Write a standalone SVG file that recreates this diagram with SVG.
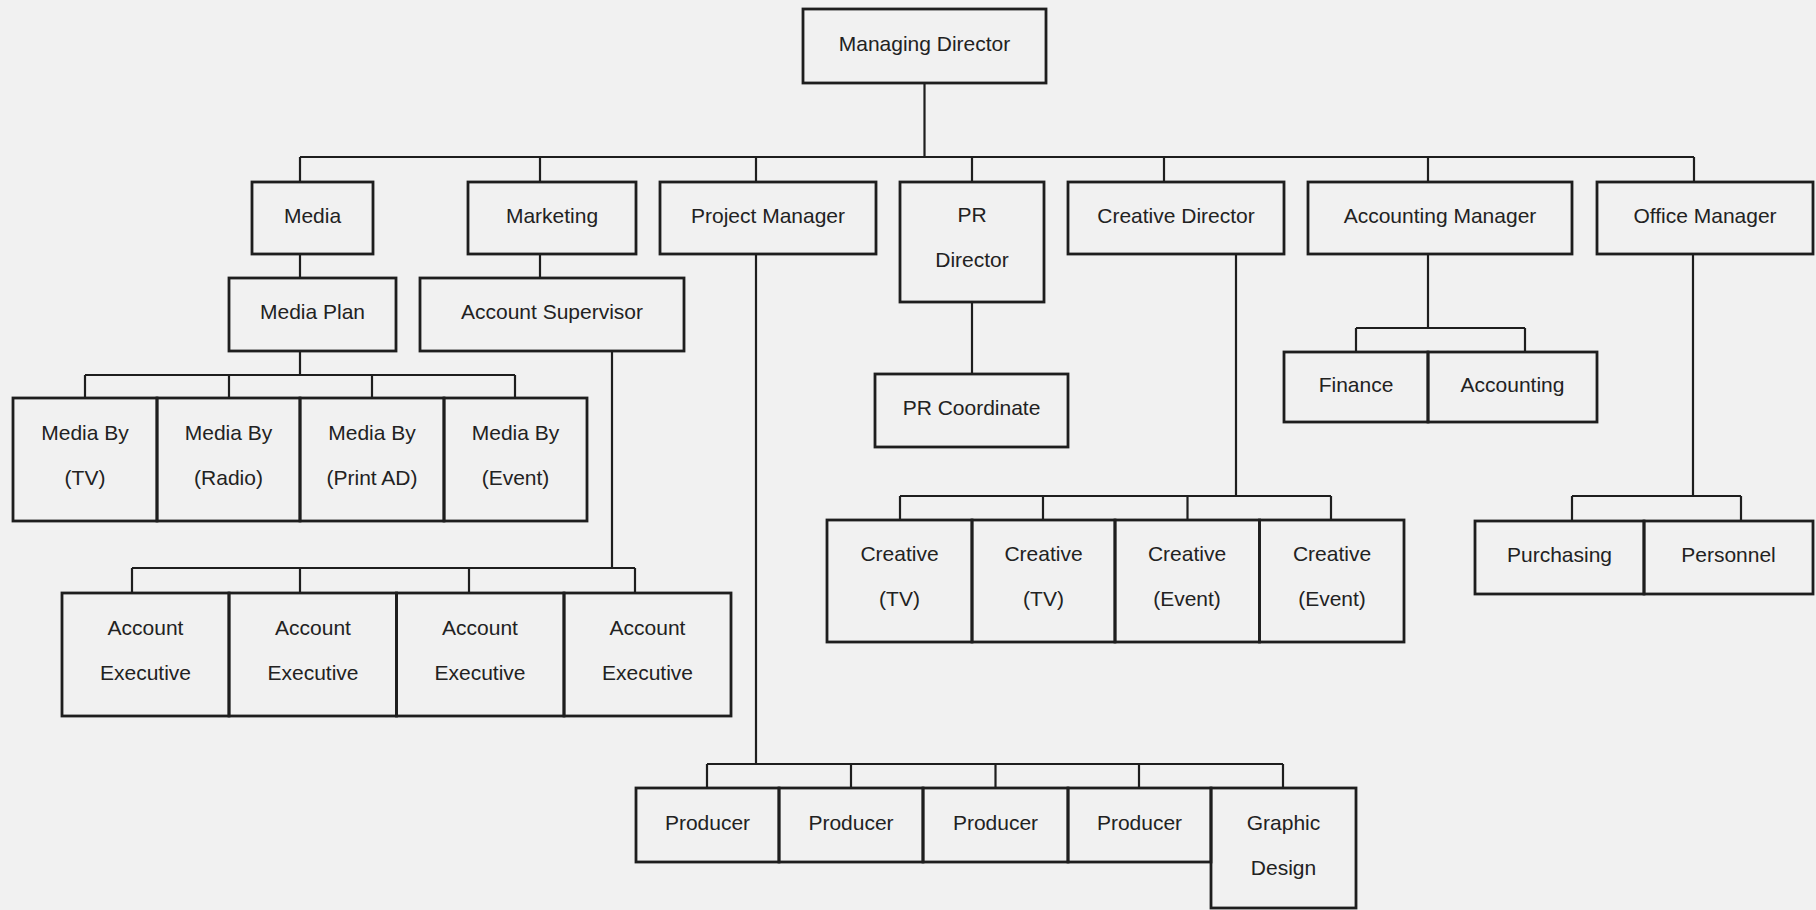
<svg xmlns="http://www.w3.org/2000/svg" width="1816" height="910" viewBox="0 0 1816 910">
<style>
.bg{fill:#f1f1f1}
.n rect{fill:none;stroke:#1e1e1e;stroke-width:2.8}
.n text{font-family:"Liberation Sans",Arial,sans-serif;font-size:21px;fill:#222;text-anchor:middle}
#connectors path{fill:none;stroke:#1e1e1e;stroke-width:2.2}
</style>
<rect class="bg" x="0" y="0" width="1816" height="910"/>
<g id="connectors">
<path d="M924.5 83V157M300 157H1694M300 157V182M540 157V182M756 157V182M972 157V182M1164 157V182M1428 157V182M1694 157V182"/>
<path d="M300 254V278M540 254V278"/>
<path d="M300 351V375M85 375H515M85 375V398M229 375V398M372 375V398M515 375V398"/>
<path d="M612 351V568M132 568H635M132 568V593M300 568V593M469 568V593M635 568V593"/>
<path d="M756 254V764M707 764H1283M707 764V788M851 764V788M995.5 764V788M1139 764V788M1283 764V788"/>
<path d="M972 302V374"/>
<path d="M1236 254V496M900 496H1331M900 496V520M1043 496V520M1187.5 496V520M1331 496V520"/>
<path d="M1428 254V328M1356 328H1525M1356 328V352M1525 328V352"/>
<path d="M1693 254V496M1572 496H1741M1572 496V521M1741 496V521"/>
</g>
<g id="managing-director" class="n"><rect x="803" y="9" width="243" height="74"/><text x="924.5" y="51">Managing Director</text></g>
<g id="media" class="n"><rect x="252" y="182" width="121" height="72"/><text x="312.5" y="222.5">Media</text></g>
<g id="marketing" class="n"><rect x="468" y="182" width="168" height="72"/><text x="552" y="222.5">Marketing</text></g>
<g id="project-manager" class="n"><rect x="660" y="182" width="216" height="72"/><text x="768" y="222.5">Project Manager</text></g>
<g id="pr-director" class="n"><rect x="900" y="182" width="144" height="120"/><text x="972" y="222">PR</text><text x="972" y="267">Director</text></g>
<g id="creative-director" class="n"><rect x="1068" y="182" width="216" height="72"/><text x="1176" y="222.5">Creative Director</text></g>
<g id="accounting-manager" class="n"><rect x="1308" y="182" width="264" height="72"/><text x="1440" y="222.5">Accounting Manager</text></g>
<g id="office-manager" class="n"><rect x="1597" y="182" width="216" height="72"/><text x="1705" y="222.5">Office Manager</text></g>
<g id="media-plan" class="n"><rect x="229" y="278" width="167" height="73"/><text x="312.5" y="319">Media Plan</text></g>
<g id="account-supervisor" class="n"><rect x="420" y="278" width="264" height="73"/><text x="552" y="319">Account Supervisor</text></g>
<g id="media-by-tv" class="n"><rect x="13" y="398" width="144" height="123"/><text x="85" y="439.5">Media By</text><text x="85" y="484.5">(TV)</text></g>
<g id="media-by-radio" class="n"><rect x="157" y="398" width="143" height="123"/><text x="228.5" y="439.5">Media By</text><text x="228.5" y="484.5">(Radio)</text></g>
<g id="media-by-print" class="n"><rect x="300" y="398" width="144" height="123"/><text x="372" y="439.5">Media By</text><text x="372" y="484.5">(Print AD)</text></g>
<g id="media-by-event" class="n"><rect x="444" y="398" width="143" height="123"/><text x="515.5" y="439.5">Media By</text><text x="515.5" y="484.5">(Event)</text></g>
<g id="account-executive-1" class="n"><rect x="62" y="593" width="167" height="123"/><text x="145.5" y="634.5">Account</text><text x="145.5" y="679.5">Executive</text></g>
<g id="account-executive-2" class="n"><rect x="229" y="593" width="167.5" height="123"/><text x="313" y="634.5">Account</text><text x="313" y="679.5">Executive</text></g>
<g id="account-executive-3" class="n"><rect x="396.5" y="593" width="167.5" height="123"/><text x="480" y="634.5">Account</text><text x="480" y="679.5">Executive</text></g>
<g id="account-executive-4" class="n"><rect x="564" y="593" width="167" height="123"/><text x="647.5" y="634.5">Account</text><text x="647.5" y="679.5">Executive</text></g>
<g id="pr-coordinate" class="n"><rect x="875" y="374" width="193" height="73"/><text x="971.5" y="415">PR Coordinate</text></g>
<g id="creative-tv-1" class="n"><rect x="827" y="520" width="145" height="122"/><text x="899.5" y="561">Creative</text><text x="899.5" y="606">(TV)</text></g>
<g id="creative-tv-2" class="n"><rect x="972" y="520" width="143" height="122"/><text x="1043.5" y="561">Creative</text><text x="1043.5" y="606">(TV)</text></g>
<g id="creative-event-1" class="n"><rect x="1115" y="520" width="144.5" height="122"/><text x="1187" y="561">Creative</text><text x="1187" y="606">(Event)</text></g>
<g id="creative-event-2" class="n"><rect x="1259.5" y="520" width="144.5" height="122"/><text x="1332" y="561">Creative</text><text x="1332" y="606">(Event)</text></g>
<g id="finance" class="n"><rect x="1284" y="352" width="144" height="70"/><text x="1356" y="391.5">Finance</text></g>
<g id="accounting" class="n"><rect x="1428" y="352" width="169" height="70"/><text x="1512.5" y="391.5">Accounting</text></g>
<g id="purchasing" class="n"><rect x="1475" y="521" width="169" height="73"/><text x="1559.5" y="562">Purchasing</text></g>
<g id="personnel" class="n"><rect x="1644" y="521" width="169" height="73"/><text x="1728.5" y="562">Personnel</text></g>
<g id="producer-1" class="n"><rect x="636" y="788" width="143" height="74"/><text x="707.5" y="829.5">Producer</text></g>
<g id="producer-2" class="n"><rect x="779" y="788" width="144" height="74"/><text x="851" y="829.5">Producer</text></g>
<g id="producer-3" class="n"><rect x="923" y="788" width="145" height="74"/><text x="995.5" y="829.5">Producer</text></g>
<g id="producer-4" class="n"><rect x="1068" y="788" width="143" height="74"/><text x="1139.5" y="829.5">Producer</text></g>
<g id="graphic-design" class="n"><rect x="1211" y="788" width="145" height="120"/><text x="1283.5" y="829.5">Graphic</text><text x="1283.5" y="874.5">Design</text></g>
</svg>
